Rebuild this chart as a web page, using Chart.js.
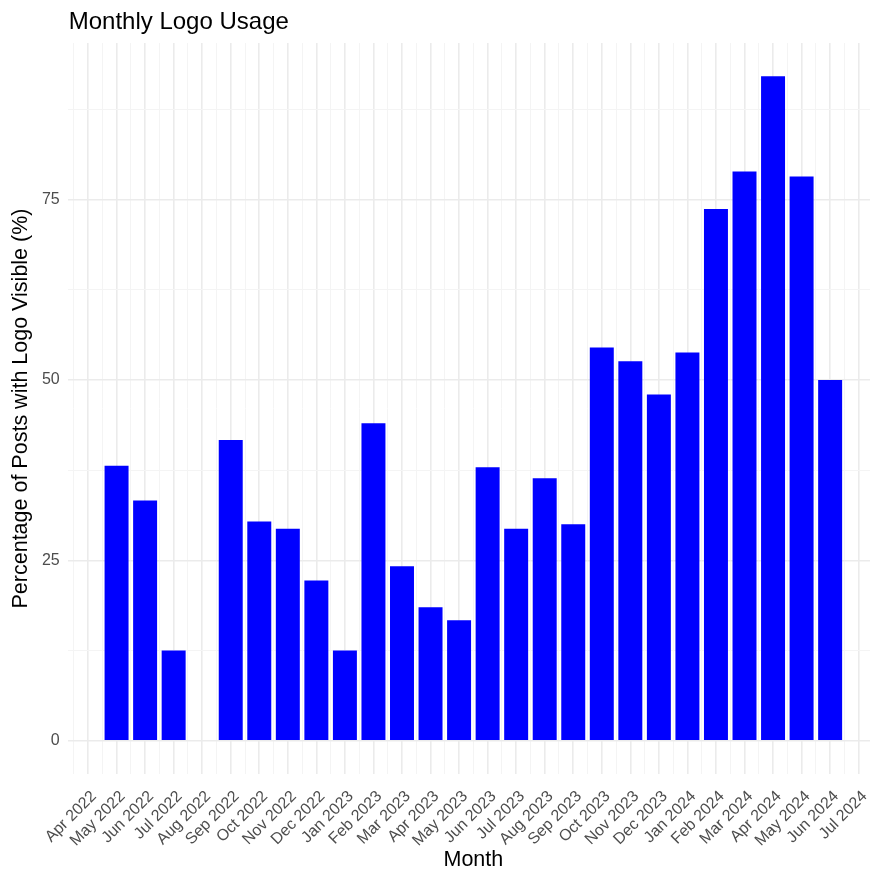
<!DOCTYPE html>
<html>
<head>
<meta charset="utf-8">
<script src="https://cdn.jsdelivr.net/npm/chart.js@4/dist/chart.umd.min.js"></script>
<style>
  html, body { margin: 0; padding: 0; background: #ffffff; overflow: hidden; }
  #wrap { width: 870px; height: 873px; overflow: hidden; position: relative; }
  canvas { display: block; }
</style>
</head>
<body>
<div id="wrap"><canvas id="c" width="880" height="873"></canvas></div>
<script>
// ---- Data ----
const chartTitle = 'Monthly Logo Usage';
const xAxisTitle = 'Month';
const yAxisTitle = 'Percentage of Posts with Logo Visible (%)';

// Month tick labels on the x axis (one per month start)
const tickLabels = [
  'Apr 2022','May 2022','Jun 2022','Jul 2022','Aug 2022','Sep 2022','Oct 2022',
  'Nov 2022','Dec 2022','Jan 2023','Feb 2023','Mar 2023','Apr 2023','May 2023',
  'Jun 2023','Jul 2023','Aug 2023','Sep 2023','Oct 2023','Nov 2023','Dec 2023',
  'Jan 2024','Feb 2024','Mar 2024','Apr 2024','May 2024','Jun 2024','Jul 2024'
];

// Months that have a bar, and their values (%); Aug 2022 has no bar
const months = [
  'May 2022','Jun 2022','Jul 2022','Sep 2022','Oct 2022','Nov 2022','Dec 2022',
  'Jan 2023','Feb 2023','Mar 2023','Apr 2023','May 2023','Jun 2023','Jul 2023',
  'Aug 2023','Sep 2023','Oct 2023','Nov 2023','Dec 2023','Jan 2024','Feb 2024',
  'Mar 2024','Apr 2024','May 2024','Jun 2024'
];
const logoPct = [
  38.1, 33.3, 12.5, 41.7, 30.4, 29.4, 22.2,
  12.5, 44.0, 24.2, 18.5, 16.7, 37.9, 29.4,
  36.4, 30.0, 54.5, 52.6, 48.0, 53.8, 73.7,
  78.9, 92.1, 78.2, 50.0
];

// y axis tick labels
const yTicks = [0, 25, 50, 75];

// ---- Build chart ----
const points = months.map((m, i) => ({ x: tickLabels.indexOf(m), y: logoPct[i] }));

const xTickValues = [];
for (let i = -1; i < tickLabels.length; i++) {
  if (i >= 0) xTickValues.push(i);
  xTickValues.push(i + 0.5);
}
const yStep = yTicks[1] - yTicks[0];
const yTickValues = [];
for (let v = yTicks[0]; v <= yTicks[yTicks.length - 1] + yStep / 2; v += yStep / 2) yTickValues.push(v);

const maxVal = Math.max(...logoPct);
const yMin = -0.05 * maxVal, yMax = maxVal * 1.05;
const xFirst = Math.min(...points.map(p => p.x)), xLast = Math.max(...points.map(p => p.x));
const halfBar = 0.42;
const xSpan = (xLast + halfBar) - (xFirst - halfBar);
const xMin = xFirst - halfBar - 0.05 * xSpan, xMax = xLast + halfBar + 0.05 * xSpan;

const FONT = "'Liberation Sans', Arial, Helvetica, sans-serif";
const GRID_MAJOR = '#EBEBEB', GRID_MINOR = '#F4F4F4';
const isMajorX = c => !!(c && c.tick && Number.isInteger(c.tick.value));
const isMajorY = c => !!(c && c.tick && yTicks.includes(c.tick.value));

const titlePlugin = {
  id: 'ggTitle',
  afterDraw(chart) {
    const ctx = chart.ctx;
    ctx.save();
    ctx.font = '24px ' + FONT;
    ctx.fillStyle = '#000000';
    ctx.textAlign = 'left';
    ctx.textBaseline = 'alphabetic';
    ctx.fillText(chartTitle, chart.chartArea.left + 1, 29);
    ctx.restore();
  }
};

new Chart(document.getElementById('c'), {
  type: 'bar',
  data: {
    datasets: [{
      data: points,
      backgroundColor: '#0000FF',
      borderWidth: 0,
      categoryPercentage: 1.0,
      barPercentage: 1.68
    }]
  },
  plugins: [titlePlugin],
  options: {
    responsive: false,
    animation: false,
    layout: { padding: { top: 43, right: 1, left: 0, bottom: 0 } },
    plugins: { legend: { display: false }, tooltip: { enabled: false }, title: { display: false } },
    scales: {
      x: {
        type: 'linear',
        offset: false,
        min: xMin,
        max: xMax,
        afterBuildTicks: s => { s.ticks = xTickValues.map(v => ({ value: v })); },
        afterFit: s => { s.height = 99; s.paddingLeft = 0; s.paddingRight = 0; },
        grid: {
          offset: false,
          drawTicks: false,
          color: c => isMajorX(c) ? GRID_MAJOR : GRID_MINOR,
          lineWidth: c => isMajorX(c) ? 1.6 : 1
        },
        border: { display: false },
        ticks: {
          autoSkip: false,
          minRotation: 45,
          maxRotation: 45,
          padding: 13,
          labelOffset: 6,
          color: '#4D4D4D',
          font: { family: FONT, size: 16 },
          callback: v => Number.isInteger(v) ? tickLabels[v] : ''
        },
        title: {
          display: true,
          text: xAxisTitle,
          color: '#000000',
          font: { family: FONT, size: 21.5 },
          padding: { top: 0, bottom: 0 }
        }
      },
      y: {
        min: yMin,
        max: yMax,
        afterBuildTicks: s => { s.ticks = yTickValues.map(v => ({ value: v })); },
        afterFit: s => { s.width = 67.7; s.paddingTop = 0; s.paddingBottom = 0; },
        grid: {
          drawTicks: false,
          color: c => isMajorY(c) ? GRID_MAJOR : GRID_MINOR,
          lineWidth: c => isMajorY(c) ? 1.6 : 1
        },
        border: { display: false },
        ticks: {
          padding: 8,
          color: '#4D4D4D',
          font: { family: FONT, size: 16 },
          callback: v => yTicks.includes(v) ? String(v) : ''
        },
        title: {
          display: true,
          text: yAxisTitle,
          color: '#000000',
          font: { family: FONT, size: 21.5 },
          padding: { top: 8, bottom: 0 }
        }
      }
    }
  }
});
</script>
</body>
</html>
